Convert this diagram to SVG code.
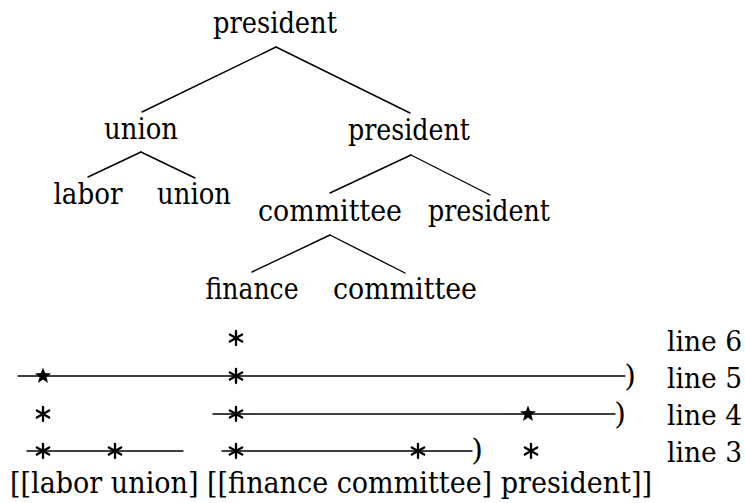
<svg xmlns="http://www.w3.org/2000/svg" width="745" height="503" viewBox="0 0 745 503">
<style>
.w{font-size:30px;text-anchor:middle}
.lab{font-size:30px}
.ln{font-size:27px}
.par{font-size:30px;text-anchor:middle}
line{stroke:#000;stroke-width:1.4;stroke-linecap:round}
.a line{stroke-width:2.3}
</style>
<defs>
<g id="ast" class="a">
<line x1="0" y1="-7" x2="0" y2="7"/>
<line x1="-6.2" y1="-3.6" x2="6.2" y2="3.6"/>
<line x1="-6.2" y1="3.6" x2="6.2" y2="-3.6"/>
</g>
<polygon id="star" points="0,-8.5 2.1,-2.9 8.1,-2.6 3.4,1.1 5,6.9 0,3.6 -5,6.9 -3.4,1.1 -8.1,-2.6 -2.1,-2.9" fill="#000"/>
</defs>
<rect width="745" height="503" fill="#fff"/>
<g font-family="'DejaVu Serif', 'Liberation Serif', serif" fill="#000">
<g id="connectors">
<line x1="276" y1="47" x2="142" y2="112"/>
<line x1="276" y1="47" x2="410" y2="113"/>
<line x1="141" y1="152" x2="88" y2="177"/>
<line x1="141" y1="152" x2="195" y2="178"/>
<line x1="411" y1="155" x2="330" y2="193"/>
<line x1="411" y1="155" x2="490" y2="195"/>
<line x1="330" y1="235" x2="252" y2="272"/>
<line x1="330" y1="235" x2="405" y2="273"/>
</g>
<g id="n-president-root"><text class="w" x="275" y="33" textLength="124" lengthAdjust="spacingAndGlyphs">president</text></g>
<g id="n-union"><text class="w" x="141" y="139" textLength="74" lengthAdjust="spacingAndGlyphs">union</text></g>
<g id="n-president-2"><text class="w" x="409" y="140" textLength="122" lengthAdjust="spacingAndGlyphs">president</text></g>
<g id="n-labor"><text class="w" x="88" y="204" textLength="69" lengthAdjust="spacingAndGlyphs">labor</text></g>
<g id="n-union-leaf"><text class="w" x="194" y="204" textLength="74" lengthAdjust="spacingAndGlyphs">union</text></g>
<g id="n-committee"><text class="w" x="330" y="221" textLength="144" lengthAdjust="spacingAndGlyphs">committee</text></g>
<g id="n-president-leaf"><text class="w" x="489" y="221" textLength="122" lengthAdjust="spacingAndGlyphs">president</text></g>
<g id="n-finance"><text class="w" x="252" y="299" textLength="93" lengthAdjust="spacingAndGlyphs">finance</text></g>
<g id="n-committee-leaf"><text class="w" x="405" y="299" textLength="144" lengthAdjust="spacingAndGlyphs">committee</text></g>
<g id="bracket-lines">
<line x1="18" y1="376" x2="625" y2="376"/>
<line x1="213" y1="414" x2="615" y2="414"/>
<line x1="27" y1="451" x2="183" y2="451"/>
<line x1="222" y1="451" x2="472" y2="451"/>
<use href="#ast" x="236" y="338"/>
<use href="#star" x="43" y="376"/>
<use href="#ast" x="236" y="376"/>
<text class="par" x="630" y="386">)</text>
<use href="#ast" x="43" y="414"/>
<use href="#ast" x="236" y="414"/>
<use href="#star" x="528" y="414"/>
<text class="par" x="620" y="424">)</text>
<use href="#ast" x="43" y="451"/>
<use href="#ast" x="115" y="451"/>
<use href="#ast" x="236" y="451"/>
<use href="#ast" x="418" y="451"/>
<text class="par" x="477" y="460">)</text>
<use href="#ast" x="531" y="451"/>
<text class="ln" x="667" y="351" textLength="75" lengthAdjust="spacingAndGlyphs">line 6</text>
<text class="ln" x="667" y="388" textLength="75" lengthAdjust="spacingAndGlyphs">line 5</text>
<text class="ln" x="667" y="425" textLength="75" lengthAdjust="spacingAndGlyphs">line 4</text>
<text class="ln" x="667" y="462" textLength="75" lengthAdjust="spacingAndGlyphs">line 3</text>
<text class="lab" x="10" y="493" textLength="642" lengthAdjust="spacingAndGlyphs">[[labor union] [[finance committee] president]]</text>
</g>
</g>
</svg>
